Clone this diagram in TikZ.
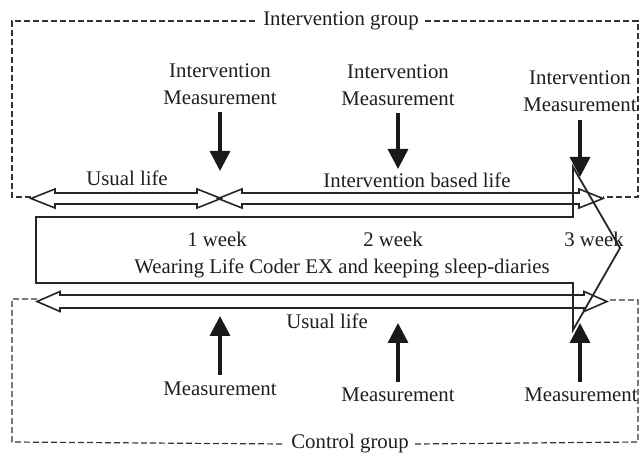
\documentclass[tikz,border=0pt]{standalone}
\usepackage{fontspec}
\setmainfont{Liberation Serif}
\usetikzlibrary{arrows.meta}
\begin{document}
\begin{tikzpicture}[x=0.5pt,y=-0.5pt,
  lbl/.style={inner sep=0pt,font=\fontsize{10.4}{13.5}\selectfont,text=black!88,align=center},
  glbl/.style={lbl,inner xsep=3pt},
  hollow/.style={draw=black!85,line width=0.8pt,line join=miter},
  grpbox/.style={draw=black!80,line width=0.6pt,dash pattern=on 3pt off 1.5pt},
  marrow/.style={draw=black!90,line width=1.7pt,-{Triangle[width=10pt,length=10pt]}}]
\useasboundingbox (0,0) rectangle (641,453);
\fill[white] (0,0) rectangle (641,453);
\newcommand{\hdarrow}[6]{%
 \draw[hollow] (#1,#3) -- (#1+#6,#3-#5) -- (#1+#6,#3-#4) -- (#2-#6,#3-#4) -- (#2-#6,#3-#5) -- (#2,#3)
   -- (#2-#6,#3+#5) -- (#2-#6,#3+#4) -- (#1+#6,#3+#4) -- (#1+#6,#3+#5) -- cycle;}
% big arrow
\draw[hollow,line width=0.9pt] (36,217) -- (573,217) -- (573,167) -- (620,248) -- (573,330) -- (573,283) -- (36,283) -- cycle;
% double arrows
\hdarrow{31}{221}{198.5}{5.5}{9.5}{24}
\hdarrow{218}{603}{198.5}{5.5}{9.5}{24}
\hdarrow{37}{607}{301.5}{6.5}{10}{23}
% group labels
\node[glbl] (ig) at (341,21) {Intervention group};
\node[glbl] (cg) at (350,444) {Control group};
% dashed boxes
\draw[grpbox] (31,197) -- (12,197) -- (12,21) -- (ig.west);
\draw[grpbox] (ig.east) -- (638,21) -- (638,197) -- (603,197);
\draw[grpbox] (37,299) -- (12,299) -- (12,442) -- (cg.west);
\draw[grpbox] (cg.east) -- (638,442) -- (638,300) -- (607,300);
% top texts
\node[lbl] (im1) at (220,84) {Intervention\\Measurement};
\node[lbl] (im2) at (398,85) {Intervention\\Measurement};
\node[lbl] (im3) at (580,91.5) {Intervention\\Measurement};
\coordinate (d1s) at (220,112); \coordinate (d1e) at (220,171);
\coordinate (d2s) at (398,113); \coordinate (d2e) at (398,169);
\coordinate (d3s) at (580,120); \coordinate (d3e) at (580,177);
\draw[marrow] (d1s) -- (d1e);
\draw[marrow] (d2s) -- (d2e);
\draw[marrow] (d3s) -- (d3e);
\node[lbl] (ul1) at (127,178) {Usual life};
\node[lbl] (ibl) at (417,180) {Intervention based life};
% week labels
\node[lbl] (w1) at (217,239) {1 week};
\node[lbl] (w2) at (393,239) {2 week};
\node[lbl] (w3) at (594,239) {3 week};
\node[lbl] (wear) at (342,268) {Wearing Life Coder EX and keeping sleep-diaries};
% bottom
\node[lbl] (ul2) at (327,321) {Usual life};
\node[lbl] (m1) at (220,389) {Measurement};
\node[lbl] (m2) at (398,395) {Measurement};
\node[lbl] (m3) at (581,395) {Measurement};
\coordinate (u1s) at (220,375); \coordinate (u1e) at (220,316);
\coordinate (u2s) at (398,382); \coordinate (u2e) at (398,323);
\coordinate (u3s) at (580,382); \coordinate (u3e) at (580,323);
\draw[marrow] (u1s) -- (u1e);
\draw[marrow] (u2s) -- (u2e);
\draw[marrow] (u3s) -- (u3e);
\end{tikzpicture}
\end{document}
